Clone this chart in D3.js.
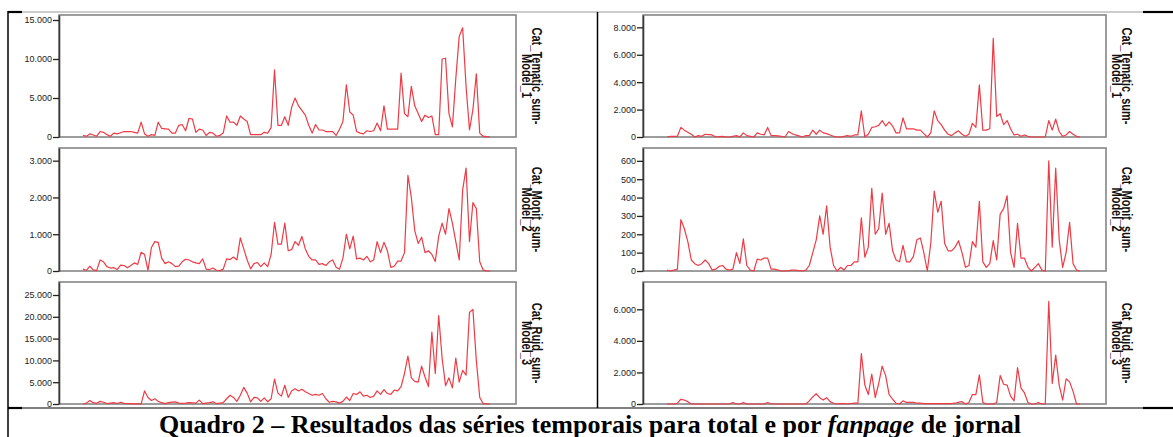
<!DOCTYPE html>
<html>
<head>
<meta charset="utf-8">
<script src="https://cdn.jsdelivr.net/npm/d3@7"></script>
<style>
  body { margin: 0; background: #fff; }
  .tick text { font-family: "Liberation Sans", Arial, sans-serif; font-size: 9px; fill: #222; }
</style>
</head>
<body>
<div id="chart"></div>
<script>
// total (left column)
var totalTematic = [200,100,400,250,100,700,600,300,100,500, 400,550,700,700,700,600,500,1900,400,100,
  300,200,1900,1100,1050,1000,500,500,1500,1600, 800,2400,2300,600,1000,900,200,600,500,100,
  200,500,2700,1900,1900,1500,2700,2300,2000,300, 300,300,300,600,500,1200,8600,1500,1500,2600,
  1500,3800,5000,4000,3400,2800,1500,500,1600,900, 900,700,700,700,200,1000,2000,6700,3200,2800,
  700,500,400,800,700,800,1800,800,4000,1000, 1000,1000,1000,8200,3000,2600,6500,4000,3000,2000,
  2800,2500,2700,300,300,10000,10100,3000,1300,7500, 12900,14000,6500,900,3500,8100,500,100,50,0];
var totalMonit = [50,20,130,30,10,300,250,120,80,90, 40,160,150,90,150,220,180,510,450,20,
  640,800,780,350,200,250,200,120,130,250, 320,300,250,220,200,330,50,40,80,20,
  10,50,330,310,380,300,900,600,300,60, 200,230,120,220,120,450,1320,730,730,1300,
  550,580,800,700,940,600,400,300,300,180, 200,150,250,300,100,50,350,1000,600,950,
  330,350,300,400,250,300,800,500,780,550, 100,130,270,270,500,2600,2000,1100,750,920,
  500,550,450,260,950,1300,1000,1700,1300,800, 300,2200,2800,800,1860,1700,250,30,0,0];
var totalRuid = [0,200,800,300,150,600,400,100,200,300, 100,400,150,100,100,50,50,50,3000,1500,
  800,1200,600,300,100,300,450,500,200,150, 200,300,250,200,900,100,200,300,500,100,
  200,300,1200,2000,1500,600,2000,3800,2500,500, 1500,1400,600,1400,500,1200,5700,2500,1800,4300,
  1500,3000,3500,3000,3400,2800,2400,2000,2200,2000, 2400,1200,400,600,500,200,600,1600,800,2400,
  2200,2800,1800,2000,1500,1800,3000,2200,3300,2400, 2200,3200,3000,4000,7000,11000,6000,5200,5000,8700,
  6200,4000,16500,7000,20300,10500,4200,6000,3700,10500, 5000,7700,6600,21000,21700,10000,1500,100,50,0];

// per fanpage (right column)
var pageTematic = [0,50,50,50,700,500,350,200,0,100, 50,200,180,150,0,30,50,0,0,50,
  100,0,300,100,50,0,300,200,150,700, 100,100,80,50,0,400,250,150,80,0,
  100,100,500,200,500,300,250,150,50,0, 0,50,100,50,150,150,1900,0,200,700,
  750,850,1200,800,1100,800,300,300,1400,600, 600,600,500,500,250,0,300,1900,1200,900,
  500,200,100,300,450,200,50,200,1000,700, 3800,500,500,600,7200,1500,1700,900,1200,600,
  150,200,50,150,50,0,0,0,0,0, 1200,500,1300,400,50,150,400,200,50,0];
var pageMonit = [5,0,5,10,280,230,160,60,40,30, 40,60,40,5,10,25,30,10,5,10,
  100,40,175,30,5,0,65,60,70,70, 10,10,5,0,0,2,5,5,2,0,
  5,30,100,170,300,200,355,130,30,0, 20,5,30,30,50,50,290,75,130,450,
  200,230,425,200,260,110,60,50,140,50, 50,80,170,180,100,0,150,435,320,380,
  150,110,110,130,165,100,20,30,160,130, 380,50,20,40,165,60,310,340,410,100,
  20,260,70,70,20,0,20,40,5,0, 600,130,560,170,20,100,265,40,5,0];
var pageRuid = [0,0,0,50,300,250,150,0,0,0, 0,0,0,0,0,0,0,0,0,100,
  0,0,100,0,0,0,0,0,0,100, 0,0,0,0,0,0,0,0,0,0,
  0,200,450,650,400,250,400,150,50,0, 30,20,0,30,50,50,3200,1200,600,1900,
  400,1300,2400,1800,600,300,50,0,200,100, 100,100,50,50,30,30,20,20,20,20,
  30,30,30,50,100,150,0,100,600,600, 1850,100,0,0,0,100,1800,1250,1200,500,
  200,2300,1000,700,100,0,0,100,0,0, 6500,1300,3100,1200,250,1600,1400,800,0,0];

// axis extents and ticks
var axisMax = [15640, 3345, 27980, 8900, 670, 7730];
var ticksTematicTotal = [0, 5000, 10000, 15000];
var ticksMonitTotal = [0, 1000, 2000, 3000];
var ticksRuidTotal = [0, 5000, 10000, 15000, 20000, 25000];
var ticksTematicPage = [0, 2000, 4000, 6000, 8000];
var ticksMonitPage = [0, 100, 200, 300, 400, 500, 600];
var ticksRuidPage = [0, 2000, 4000, 6000];
var seriesLabels = [["Cat_Tematic_sum-", "Model_1"], ["Cat_Monit_sum-", "Model_2"], ["Cat_Ruid_sum-", "Model_3"]];
var captionStart = "Quadro 2 – Resultados das séries temporais para total e por ";
var captionItalic = "fanpage";
var captionEnd = " de jornal";

var panels = [
  { values: totalTematic, ticks: ticksTematicTotal, col: 0, row: 0 },
  { values: totalMonit,   ticks: ticksMonitTotal,   col: 0, row: 1 },
  { values: totalRuid,    ticks: ticksRuidTotal,    col: 0, row: 2 },
  { values: pageTematic,  ticks: ticksTematicPage,  col: 1, row: 0 },
  { values: pageMonit,    ticks: ticksMonitPage,    col: 1, row: 1 },
  { values: pageRuid,     ticks: ticksRuidPage,     col: 1, row: 2 }
];

var W = 1173, H = 437;
var cols = [{ x0: 59, x1: 516 }, { x0: 643, x1: 1106 }];
var rows = [{ y0: 15, y1: 137 }, { y0: 148, y1: 271 }, { y0: 282, y1: 404 }];
var padL = 24, padR = 26;

var ptBR = d3.formatLocale({ decimal: ",", thousands: ".", grouping: [3], currency: ["", ""] });
var fmt = ptBR.format(",d");

var svg = d3.select("#chart").append("svg")
  .attr("width", W).attr("height", H)
  .style("display", "block");

// table lines
var table = svg.append("g");
table.append("line").attr("x1", 8).attr("x2", 1143).attr("y1", 12).attr("y2", 12)
  .attr("stroke", "#9a9a9a").attr("stroke-width", 1);
table.append("line").attr("x1", 8).attr("x2", 1173).attr("y1", 408).attr("y2", 408)
  .attr("stroke", "#000").attr("stroke-width", 1);
[[8, 22, 12], [1143, 1173, 12], [8, 22, 408], [1143, 1173, 408]].forEach(function (s) {
  table.append("line").attr("x1", s[0]).attr("x2", s[1]).attr("y1", s[2]).attr("y2", s[2])
    .attr("stroke", "#000").attr("stroke-width", 2.2);
});
table.append("line").attr("x1", 8).attr("x2", 8).attr("y1", 11).attr("y2", H)
  .attr("stroke", "#000").attr("stroke-width", 1.5);
table.append("line").attr("x1", 597.5).attr("x2", 597.5).attr("y1", 12).attr("y2", 408)
  .attr("stroke", "#000").attr("stroke-width", 1.5);

panels.forEach(function (p, k) {
  var c = cols[p.col], r = rows[p.row];
  var g = svg.append("g");

  var x = d3.scaleLinear().domain([0, p.values.length - 1]).range([c.x0 + padL, c.x1 - padR]);
  var y = d3.scaleLinear().domain([0, axisMax[k]]).range([r.y1, r.y0]);

  g.append("rect")
    .attr("x", c.x0).attr("y", r.y0)
    .attr("width", c.x1 - c.x0).attr("height", r.y1 - r.y0)
    .attr("fill", "none").attr("stroke", "#858585").attr("stroke-width", 1.6);

  var ax = g.append("g").attr("transform", "translate(" + c.x0 + ",0)")
    .call(d3.axisLeft(y).tickValues(p.ticks).tickFormat(fmt).tickSize(6).tickSizeOuter(0).tickPadding(1));
  ax.select(".domain").attr("stroke", "#3a3a3a").attr("stroke-width", 1.6);
  ax.selectAll(".tick line").attr("stroke", "#222").attr("stroke-width", 1.3);

  g.append("path")
    .datum(p.values)
    .attr("fill", "none")
    .attr("stroke", "#ee3b45")
    .attr("stroke-width", 1.2)
    .attr("stroke-linejoin", "round")
    .attr("d", d3.line().x(function (d, i) { return x(i); }).y(function (d) { return y(d); }));

  var lab = seriesLabels[p.row];
  var cy = (r.y0 + r.y1) / 2;
  [[lab[0], 16], [lab[1], 5.5]].forEach(function (t) {
    g.append("text")
      .attr("transform", "translate(" + (c.x1 + t[1]) + "," + cy + ") rotate(90) scale(1,1.25)")
      .attr("text-anchor", "middle")
      .style("font-family", "'Liberation Sans', Arial, sans-serif")
      .style("font-weight", "bold")
      .style("font-size", "11px")
      .attr("fill", "#111")
      .text(t[0]);
  });
});

var cap = svg.append("text")
  .attr("x", 590).attr("y", 432.5)
  .attr("text-anchor", "middle")
  .style("font-family", "'Liberation Serif', 'Times New Roman', serif")
  .style("font-weight", "bold")
  .style("font-size", "26px")
  .attr("fill", "#000");
cap.append("tspan").text(captionStart);
cap.append("tspan").style("font-style", "italic").text(captionItalic);
cap.append("tspan").text(captionEnd);
</script>
</body>
</html>
